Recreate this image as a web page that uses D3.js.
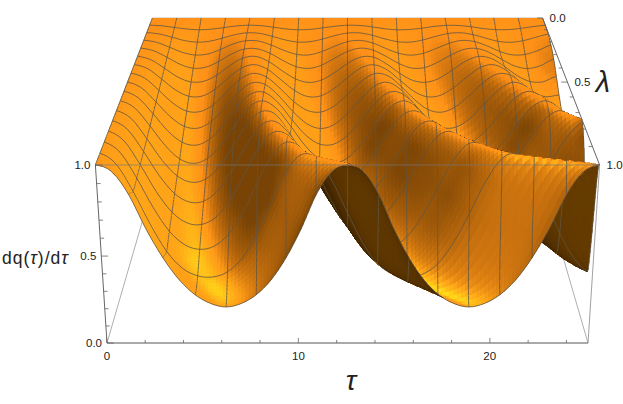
<!DOCTYPE html>
<html>
<head>
<meta charset="utf-8">
<script src="https://cdn.jsdelivr.net/npm/d3@7"></script>
<style>
  html, body { margin: 0; padding: 0; background: #fff; }
  text { font-family: "Liberation Sans", sans-serif; fill: #222; }
</style>
</head>
<body>
<div id="chart"></div>
<script>
// tau runs 0..8pi in pi/4 steps, lambda 0..1 in 1/16 steps
const tauStep = Math.PI / 4;
const tauMax = 8 * Math.PI;
const tauTicks = [0, 10, 20];
const zTicks = [0, 0.5, 1];
const lambdaTicks = [0, 0.5, 1];

// crest to trough distance along tau, one per lambda row
const rowHalfPeriods = [3.14, 3.19, 3.24, 3.3, 3.36, 3.43, 3.51, 3.59, 3.68, 3.79, 3.91, 4.06, 4.24, 4.46, 4.78, 5.24, 6.28];

// one row per lambda, one value per tau
const surfaceRows = [
  [1,1,1,1,1,1,1,1,1,1,1,1,1,1,1,1,1,1,1,1,1,1,1,1,1,1,1,1,1,1,1,1,1],
  [1,.996,.985,.975,.97,.974,.984,.995,1,.997,.987,.976,.97,.973,.983,.993,1,.998,.989,.977,.97,.972,.98,.992,.999,.998,.99,.978,.971,.971,.979,.991,.999],
  [1,.991,.97,.948,.938,.944,.964,.986,.999,.995,.976,.953,.939,.941,.958,.981,.997,.998,.982,.959,.941,.938,.952,.975,.994,.999,.987,.965,.944,.937,.947,.969,.99],
  [1,.987,.955,.922,.905,.912,.941,.976,.997,.995,.969,.935,.909,.906,.928,.962,.991,.999,.982,.948,.917,.904,.917,.948,.981,.999,.991,.963,.928,.906,.909,.934,.969],
  [1,.983,.942,.897,.872,.879,.915,.962,.994,.996,.967,.921,.882,.871,.892,.936,.979,1,.987,.947,.902,.873,.876,.91,.956,.992,.998,.972,.927,.886,.87,.888,.93],
  [1,.978,.925,.869,.838,.843,.882,.941,.988,.999,.966,.909,.858,.835,.85,.897,.955,.995,.994,.951,.893,.848,.836,.86,.913,.969,.999,.985,.936,.878,.841,.839,.873],
  [1,.974,.91,.843,.803,.804,.847,.915,.977,1,.97,.905,.839,.801,.806,.852,.92,.98,.999,.966,.9,.835,.8,.808,.856,.925,.984,.999,.961,.894,.831,.8,.811],
  [1,.97,.895,.816,.767,.764,.806,.883,.961,.999,.977,.907,.826,.771,.761,.798,.871,.95,.998,.984,.918,.837,.777,.76,.791,.859,.941,.994,.99,.93,.848,.784,.759],
  [1,.965,.88,.79,.731,.72,.762,.845,.936,.995,.986,.916,.822,.748,.718,.741,.81,.903,.98,.998,.947,.857,.772,.723,.727,.779,.868,.955,.999,.974,.894,.801,.736],
  [1,.961,.866,.763,.694,.676,.712,.796,.902,.982,.995,.934,.83,.735,.682,.682,.735,.83,.934,.996,.982,.902,.795,.712,.676,.694,.763,.866,.962,1,.961,.866,.763],
  [1,.957,.852,.737,.655,.628,.658,.74,.855,.96,1,.954,.847,.733,.654,.628,.66,.743,.86,.962,1,.951,.843,.729,.653,.628,.661,.746,.863,.965,1,.949,.84],
  [1,.953,.837,.709,.617,.579,.598,.673,.793,.92,.994,.979,.865,.735,.633,.583,.589,.653,.765,.895,.985,.99,.887,.755,.65,.59,.582,.635,.74,.87,.975,.996,.905],
  [1,.949,.824,.683,.578,.528,.533,.595,.71,.852,.967,.998,.928,.795,.657,.563,.524,.541,.614,.738,.88,.982,.991,.904,.765,.634,.551,.523,.552,.636,.767,.909,.992],
  [1,.946,.811,.656,.537,.474,.465,.508,.608,.753,.904,.993,.978,.864,.709,.573,.49,.462,.486,.566,.698,.853,.971,.996,.913,.766,.618,.513,.466,.471,.529,.646,.798],
  [1,.943,.8,.632,.497,.418,.391,.41,.48,.606,.771,.923,1,.961,.828,.66,.516,.427,.393,.404,.464,.581,.741,.901,.993,.975,.856,.689,.537,.439,.395,.399,.449],
  [1,.942,.791,.609,.454,.356,.312,.305,.335,.413,.551,.729,.899,.993,.974,.849,.671,.502,.382,.322,.304,.321,.38,.499,.665,.846,.973,.994,.902,.733,.556,.417,.337],
  [1,.965,.84,.65,.49,.365,.28,.23,.21,.23,.28,.365,.49,.65,.84,.965,1,.965,.84,.65,.49,.365,.28,.23,.21,.23,.28,.365,.49,.65,.84,.965,1]
];

const width = 623;
const height = 404;
const tauSub = 4;
const zRatio = 0.3;

const xScale = d3.scaleLinear().domain([0, tauMax]).range([0, 1]);
const yScale = d3.scaleLinear().domain([0, 1]).range([1, 0]);
const zScale = d3.scaleLinear().domain([0, 1]).range([0, 1]);

// perspective of the box, fitted to its corners on the picture
function project(u, v, w) {
  const d = 1 + 0.279 * v - 0.046 * w;
  return [347.5 + ((u - 0.5) * 481) / d, (343 - 135.2 * v - 185.6 * w) / d];
}
const place = (tau, lambda, z) => project(xScale(tau), yScale(lambda), zScale(z));

function catmull(a, b, c, d, t) {
  return 0.5 * (2 * b + (c - a) * t + (2 * a - 5 * b + 4 * c - d) * t * t + (3 * b - a - 3 * c + d) * t * t * t);
}

// read a table row at any tau, past the end it carries on with its own period
function rowAt(q, tau) {
  const row = surfaceRows[q];
  const period = 2 * rowHalfPeriods[q];
  if (tau > tauMax) tau -= period * Math.ceil((tau - tauMax) / period);
  const x = tau / tauStep;
  const k = Math.min(Math.floor(x), row.length - 2);
  const n = row.length - 1;
  return catmull(row[Math.max(k - 1, 0)], row[k], row[k + 1], row[Math.min(k + 2, n)], x - k);
}

// between two table rows the crests slide, so blend at equal phase
function paintValue(r, t, tau) {
  const rows = [Math.max(r - 1, 0), r, Math.min(r + 1, 16), Math.min(r + 2, 16)];
  const hp = rows.map(q => rowHalfPeriods[q]);
  const here = catmull(hp[0], hp[1], hp[2], hp[3], t);
  const phase = tau / here;
  const z = rows.map((q, n) => rowAt(q, phase * hp[n]));
  return Math.max(0, Math.min(1, catmull(z[0], z[1], z[2], z[3], t)));
}

const fineLambda = [];
for (let r = 0; r < 16; r++) {
  const sub = r < 10 ? 3 : r < 13 ? 6 : 10;
  for (let s = 0; s < sub; s++) fineLambda.push({ r: r, t: s / sub, lambda: (r + s / sub) / 16 });
}
fineLambda.push({ r: 16, t: 0, lambda: 1 });
const fineTau = d3.range(32 * tauSub + 1).map(j => (j * tauStep) / tauSub);

const fine = fineLambda.map(f => fineTau.map(tau => paintValue(f.r, f.t, tau)));
const nI = fineLambda.length;
const nJ = fineTau.length;
const pts = fine.map((r, i) => r.map((z, j) => place(fineTau[j], fineLambda[i].lambda, z)));

const clamp01 = x => Math.max(0, Math.min(1, x));
function shade(i, j, under) {
  const i0 = Math.max(i - 1, 0), i1 = Math.min(i + 1, nI - 1);
  const j0 = Math.max(j - 3, 0), j1 = Math.min(j + 3, nJ - 1);
  const dzdu = ((fine[i][j1] - fine[i][j0]) * zRatio) / ((j1 - j0) / (nJ - 1));
  const dzdv = (-(fine[i1][j] - fine[i0][j]) * zRatio) / (fineLambda[i1].lambda - fineLambda[i0].lambda);
  const len = Math.hypot(dzdu, dzdv, 1);
  const nx = -dzdu / len, ny = -dzdv / len, nz = 1 / len;
  if (under) {
    const r = 0.17 + 0.24 * Math.max(0, ny);
    return d3.rgb(255 * r, 255 * r * 0.58, 0) + "";
  }
  const r = clamp01(0.47 + 1.0 * Math.max(0, 0.7 * nx - 0.45 * ny + 0.63 * nz));
  const spec = Math.pow(Math.max(0, 0.22 * nx - 0.68 * ny + 0.7 * nz), 14);
  const g = clamp01(r * (0.56 + 0.1 * Math.max(0, nx)) + 0.65 * spec);
  return d3.rgb(255 * r, 255 * g, 24 * r * r) + "";
}

const svg = d3
  .select("#chart")
  .append("svg")
  .attr("width", width)
  .attr("height", height);

const drawEdge = (a, b, color, w) =>
  svg
    .append("line")
    .attr("x1", a[0])
    .attr("y1", a[1])
    .attr("x2", b[0])
    .attr("y2", b[1])
    .attr("stroke", color)
    .attr("stroke-width", w);

// box edges behind the surface
drawEdge(project(0, 0, 0), project(0, 1, 0), "#999", 0.8);
drawEdge(project(1, 0, 0), project(1, 1, 0), "#999", 0.8);
drawEdge(project(0, 1, 1), project(1, 1, 1), "#bbb", 1);
drawEdge(project(0, 0, 1), project(0, 1, 1), "#888", 0.8);

// painter's order, back strip first, outside columns first
const items = [];
const meshLine = d3.line();
const meshColor = "#5f5644";
const jOrder = d3.range(nJ - 1).sort((a, b) => Math.abs(b - (nJ - 2) / 2) - Math.abs(a - (nJ - 2) / 2));

for (let i = 0; i < nI - 1; i++) {
  jOrder.forEach(j => {
    const a = pts[i][j], b = pts[i][j + 1], c = pts[i + 1][j + 1], e = pts[i + 1][j];
    const area = (c[0] - a[0]) * (e[1] - b[1]) - (e[0] - b[0]) * (c[1] - a[1]);
    const fill = shade(i, j, area < 0);
    items.push({ d: meshLine([a, b, c, e]) + "Z", fill: fill, stroke: fill, w: 0.4, crisp: true });
  });
  for (let j = 0; j < nJ; j += 2 * tauSub) {
    items.push({ d: meshLine([pts[i][j], pts[i + 1][j]]), fill: "none", stroke: meshColor, w: 0.8 });
  }
  if (fineLambda[i].t === 0 && i > 0) {
    items.push({ d: meshLine(pts[i]), fill: "none", stroke: meshColor, w: 0.8 });
  }
}
items.push({ d: meshLine(pts[nI - 1]), fill: "none", stroke: meshColor, w: 0.8 });

svg
  .append("g")
  .selectAll("path")
  .data(items)
  .join("path")
  .attr("d", d => d.d)
  .attr("fill", d => d.fill)
  .attr("stroke", d => d.stroke)
  .attr("stroke-width", d => d.w)
  .attr("shape-rendering", d => (d.crisp ? "crispEdges" : "auto"));

// box edges in front of the surface
drawEdge(project(0, 0, 1), project(1, 0, 1), "#777", 0.9).attr("opacity", 0.75);
drawEdge(project(0, 0, 0), project(0, 0, 1), "#666", 1);
drawEdge(project(0, 0, 0), project(1, 0, 0), "#555", 1);
drawEdge(project(1, 0, 0), project(1, 0, 1), "#888", 0.8);
drawEdge(project(1, 1, 1), project(1, 0, 1), "#666", 1);

// ticks
d3.range(0, 25.1, 2).forEach(t => {
  const major = t % 10 === 0;
  drawEdge(place(t, 1, 0), place(t, 1, major ? 0.03 : 0.018), "#666", 0.8);
});
d3.range(0, 1.01, 0.1).forEach(z => {
  const major = Math.abs(z * 2 - Math.round(z * 2)) < 1e-6;
  drawEdge(place(0, 1, z), project(major ? 0.014 : 0.008, 0, z), "#666", 0.8);
});
d3.range(0, 1.01, 0.1).forEach(l => {
  const major = Math.abs(l * 2 - Math.round(l * 2)) < 1e-6;
  drawEdge(project(1, yScale(l), 1), project(major ? 0.986 : 0.992, yScale(l), 1), "#666", 0.8);
});

// labels
const label = (x, y, txt, size, anchor) =>
  svg
    .append("text")
    .attr("x", x)
    .attr("y", y)
    .attr("font-size", size)
    .attr("text-anchor", anchor || "middle")
    .text(txt);

tauTicks.forEach(t => {
  const p = place(t, 1, 0);
  label(p[0], 360, t, 11.5);
});
zTicks.forEach(z => {
  const p = place(0, 1, z);
  label(p[0] - 5, p[1] + 4, z.toFixed(1), 11.5, "end");
});
lambdaTicks.forEach(l => {
  const p = project(1, yScale(l), 1);
  label(p[0] + 7, p[1] + 4, l.toFixed(1), 11.5, "start");
});

label(351, 390, "τ", 28).attr("font-style", "italic");
label(603, 92, "λ", 29).attr("font-style", "italic");

const zLabel = label(2, 264, "", 17.5, "start").attr("letter-spacing", 1);
zLabel.append("tspan").text("dq(");
zLabel.append("tspan").attr("font-style", "italic").text("τ");
zLabel.append("tspan").text(")/d");
zLabel.append("tspan").attr("font-style", "italic").text("τ");
</script>
</body>
</html>
